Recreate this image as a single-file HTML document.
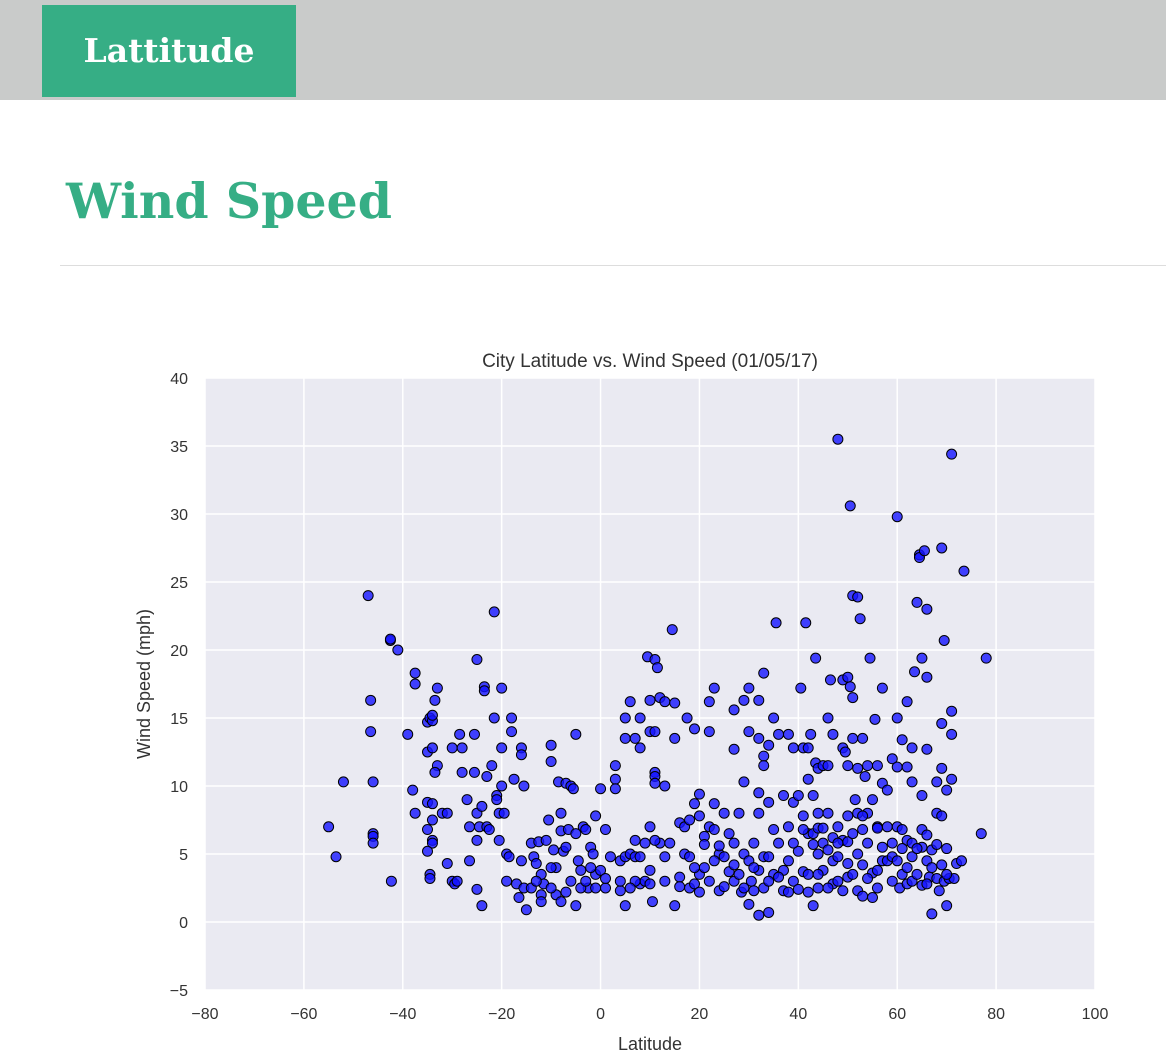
<!DOCTYPE html>
<html><head><meta charset="utf-8"><style>
body{margin:0;width:1166px;height:1060px;background:#fff;overflow:hidden;font-family:"Liberation Sans",sans-serif}
#hdr{position:absolute;left:0;top:0;width:1166px;height:100px;background:#c9cbca}
#tab{position:absolute;left:42px;top:5px;width:254px;height:92px;background:#36ae85;color:#fff;font:bold 33px "DejaVu Serif",serif;text-align:center;line-height:92px}
#h1{position:absolute;left:66px;top:171px;color:#36ae85;font:bold 49px/60px "DejaVu Serif",serif;margin:0}
#hr{position:absolute;left:60px;top:265px;width:1106px;height:1px;background:#ddd}
svg{position:absolute;left:0;top:0}
</style></head><body>
<div id="hdr"></div>
<div id="tab">Lattitude</div>
<h1 id="h1">Wind Speed</h1>
<div id="hr"></div>
<svg id="chart" width="1166" height="1060"></svg>
<script>
const xTicks=[-80,-60,-40,-20,0,20,40,60,80,100];
const yTicks=[-5,0,5,10,15,20,25,30,35,40];
const lat=[-55,-53.5,-52,-47,-46.5,-46.5,-46,-46,-46,-46,-42.5,-42.5,-42.3,-41,-39,-38,-37.5,-37.5,-37.5,-35,-35,-34.5,-34,-34,-35,-34,-34,-35,-34,-34,-35,-34.5,-34.5,-34,-33.5,-33,-33,-33.5,-32,-31,-31,-30,-30,-29.5,-29,-28.5,-28,-28,-27,-26.5,-26.5,-25.5,-25.5,-25,-25,-25,-25,-24.5,-24,-23.5,-23.5,-23,-23,-24,-22.5,-22,-21.5,-21.5,-21,-21,-20.5,-20.5,-20,-20,-20,-19.5,-19,-19,-18.5,-18,-18,-17.5,-17,-16.5,-16,-16,-15.5,-15.5,-15,-14,-13.5,-13,-12.5,-12,-11.5,-11,-10.5,-10,-10,-9.5,-9,-8.5,-8,-8,-7.5,-7,-6.5,-6,-5.5,-5,-5,-4.5,-4,-3.5,-3,-2.5,-2,-1.5,-1,-1,0,0,1,1,
3,3,3,4,4,5,5,5,5,6,6,7,7,7,8,8,8,9,9,9.5,10,10,10,10,10.5,11,11,11,11,11,11.5,12,12,13,13,13,14,14.5,15,15,15,16,16,17,17,17.5,18,18,19,19,19,20,20,20,21,21,22,22,22,22,23,23,23,24,24,25,25,26,26,27,27,27,27,28,28,28.5,29,29,29,29,30,30,30,30,30.5,31,31,32,32,32,32,32,32,33,33,33,33,33,34,34,34,34,35,35,35,35.5,36,36,37,37,37,38,38,38,39,39,39,40,40,40,40.5,41,41,41,41.5,42,42,42,42,42.5,43,43,43,43.5,43.5,44,44,44,44,45,45,45,46,46,46,46,46.5,47,47,47,48,48,48,49,49,49,49,49.5,50,50,50,50,50,50.5,50.5,51,51,51,51,51.5,52,52,52,52,52.5,53,53,53,53,53.5,54,54,54,54.5,55,55,55,55.5,56,56,56,57,57,57,58,58,59,59,59,60,60,60,60,60.5,61,61,61,62,62,62,62,63,63,63,63,63.5,64,64.5,64.5,65,65,65,65,65.5,66,66,66,66,66.5,67,67,68,68,68,68.5,69,69,69,69,69.5,69.5,70,70,70,70.5,71,71,71,71,71.5,72,73,73.5,77,78,
41,43,44,45,47,48,50,51,52,53,56,57,58,59,60,61,63,64,65,66,67,68,69,70,66,64,62,56,54,48,46,44,42,39,38,36,34,31,27,25,24,23,21,20,19,18,16,13,11,10,8,7,6,4,2,1,-1,-2,-6,-7,-9,-10,-12,-14,-16,-13,-12,-10,-8,-7,-5,-4,-3];
const wind=[7,4.8,10.3,24,16.3,14,10.3,6.5,6.3,5.8,20.7,20.8,3,20,13.8,9.7,18.3,17.5,8,14.7,12.5,15,14.8,15.2,8.8,8.7,7.5,6.8,6,5.8,5.2,3.5,3.2,12.8,16.3,17.2,11.5,11,8,8,4.3,12.8,3,2.8,3,13.8,12.8,11,9,7,4.5,13.8,11,19.3,6,8,2.4,7,8.5,17.3,17,10.7,7,1.2,6.8,11.5,22.8,15,9.3,9,8,6,17.2,12.8,10,8,3,5,4.8,15,14,10.5,2.8,1.8,12.8,12.3,2.5,10,0.9,5.8,4.8,4.3,5.9,2,2.8,6,7.5,13,11.8,5.3,4,10.3,8,6.7,5.2,10.2,6.8,10,9.8,13.8,6.5,4.5,3.8,7,6.8,2.5,5.5,5,7.8,3.5,9.8,3.8,6.8,2.5,
11.5,10.5,9.8,4.5,2.3,15,13.5,4.8,1.2,16.2,5,13.5,6,4.8,15,12.8,2.8,5.8,3,19.5,16.3,14,7,2.8,1.5,19.3,11,10.7,10.2,14,18.7,16.5,5.8,16.2,10,4.8,5.8,21.5,16.1,13.5,1.2,7.3,3.3,7,5,15,4.8,2.5,8.7,2.8,14.2,9.4,7.8,3.5,6.3,4,16.2,14,7,3,17.2,8.7,6.8,5,2.3,8,4.8,6.5,3.7,15.6,12.7,4.2,3,8,3.5,2.2,16.3,10.3,5,2.5,17.2,14,4.5,1.3,3,5.8,2.3,16.3,13.5,9.5,8,3.8,0.5,18.3,12.2,11.5,4.8,2.5,13,8.8,4.8,0.7,15,6.8,3.5,22,13.8,5.8,9.3,3.8,2.3,13.8,7,4.5,12.8,8.8,3,9.3,5.2,2.4,17.2,12.8,7.8,3.7,22,12.8,10.5,6.5,3.5,13.8,9.3,6.5,1.2,19.4,11.7,11.3,8,5,2.5,11.5,5.8,3.8,15,11.5,8,5.3,17.8,13.8,4.5,2.8,35.5,7,4.8,17.8,12.8,6,2.3,12.5,18,11.5,7.8,4.3,3.3,17.3,30.6,16.5,13.5,24,3.5,9,23.9,11.3,5,2.3,22.3,13.5,6.8,4.2,1.9,10.7,11.5,8,5.8,19.4,9,3.6,1.8,14.9,11.5,7,2.5,17.2,10.2,4.5,9.7,7,12,5.8,3,29.8,15,11.4,7,2.5,13.4,6.8,3.5,16.2,11.4,6,2.8,12.8,10.3,4.8,3,18.4,23.5,27,26.8,19.4,9.3,5.5,2.7,27.3,23,18,12.7,4.5,3.3,5.3,0.6,10.3,8,3.2,2.3,27.5,11.3,14.6,7.8,20.7,3,9.7,5.4,1.2,3.2,15.5,13.8,10.5,34.4,3.2,4.3,4.5,25.8,6.5,19.4,
6.8,5.7,6.9,6.9,6.2,5.8,5.9,6.5,8,7.8,6.9,5.5,4.5,4.8,4.5,5.4,5.8,5.4,6.8,6.4,4,5.7,4.2,3.5,2.8,3.5,4,3.8,3.2,3,2.5,3.5,2.2,5.8,2.2,3.3,3,4,5.8,2.6,5.6,4.5,5.7,2.2,4,7.5,2.6,3,6,3.8,4.8,3,2.5,3,4.8,3.2,2.5,4,3,5.5,2,4,3.5,2.5,4.5,3,1.5,2.5,1.5,2.2,1.2,2.5,3];
const L=205,R=1095,T=378,B=990;
const sx=v=>L+(v+80)/180*(R-L), sy=v=>B-(v+5)/45*(B-T);
const fmt=v=>v<0?'\u2212'+(-v):String(v);
const svg=document.getElementById('chart'),NS='http://www.w3.org/2000/svg';
function mk(t,a,p){const e=document.createElementNS(NS,t);for(const k in a)e.setAttribute(k,a[k]);(p||svg).appendChild(e);return e;}
const bg=mk('rect',{x:L,y:T,width:R-L,height:B-T,fill:'#eaeaf2'});


xTicks.forEach(v=>{const g=mk('line',{x1:sx(v),x2:sx(v),y1:T,y2:B,stroke:'#fff','stroke-width':1.5});


const t=mk('text',{x:sx(v),y:1019,'text-anchor':'middle','font-size':16,fill:'#333'});t.textContent=fmt(v);

});
yTicks.forEach(v=>{const g=mk('line',{x1:L,x2:R,y1:sy(v),y2:sy(v),stroke:'#fff','stroke-width':1.5});


const t=mk('text',{x:188,y:sy(v)+6,'text-anchor':'end','font-size':16,fill:'#333'});t.textContent=fmt(v);

});
for(let i=0;i<lat.length;i++){const c=mk('circle',{cx:sx(lat[i]),cy:sy(wind[i]),r:5,fill:'rgba(20,20,255,0.8)',stroke:'#000','stroke-width':1});

}
const tt=mk('text',{x:650,y:367,'text-anchor':'middle','font-size':19,fill:'#333'});tt.textContent='City Latitude vs. Wind Speed (01/05/17)';


const xl=mk('text',{x:650,y:1050,'text-anchor':'middle','font-size':18,fill:'#333'});xl.textContent='Latitude';


const yl=mk('text',{x:150,y:684,'text-anchor':'middle','font-size':18,fill:'#333',transform:'rotate(-90 150 684)'});yl.textContent='Wind Speed (mph)';


</script>
</body></html>
